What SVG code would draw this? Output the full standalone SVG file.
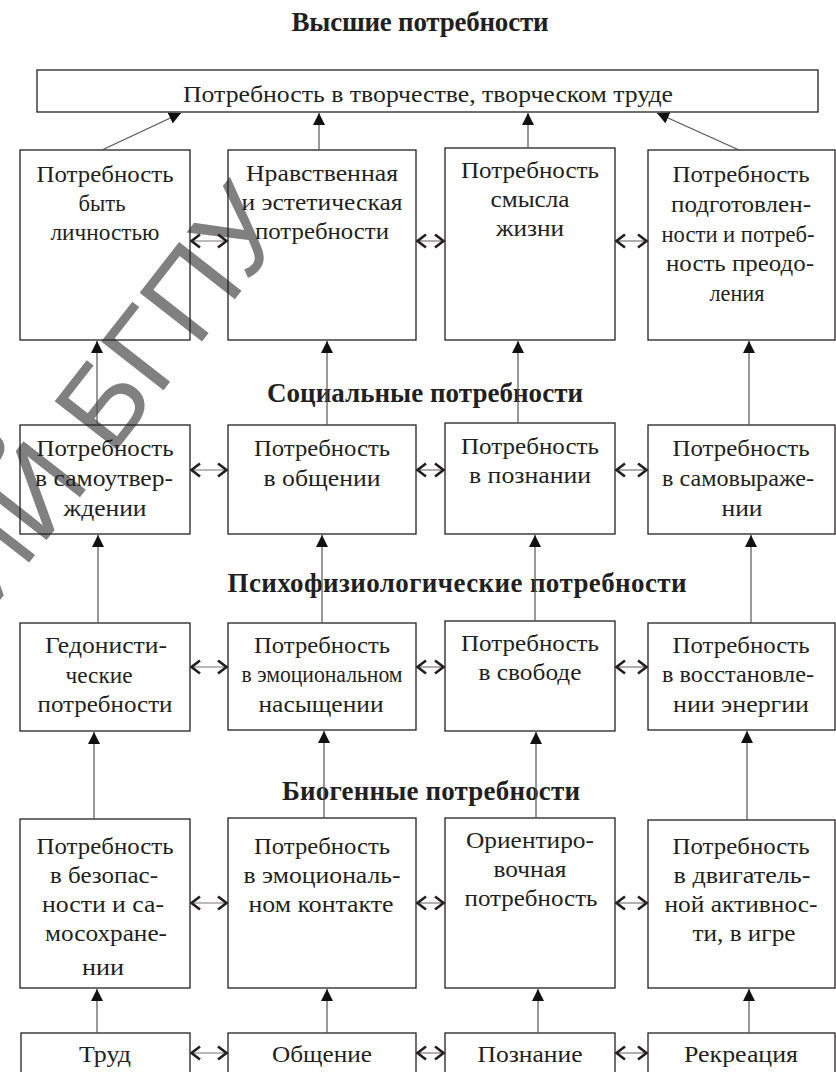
<svg xmlns="http://www.w3.org/2000/svg" width="836" height="1072" viewBox="0 0 836 1072">
<style>
.bg{fill:#ffffff}
.box{fill:none;stroke:#231f20;stroke-width:1.3}
.t{font-family:"Liberation Serif","Times New Roman",serif;font-size:24px;fill:#231f20;text-anchor:middle}
.h{font-family:"Liberation Serif","Times New Roman",serif;font-size:27px;font-weight:bold;fill:#231f20;text-anchor:middle}
.up{stroke:#555555;stroke-width:1.2;fill:none;marker-end:url(#tri)}
.bi{stroke:#777777;stroke-width:1.2;fill:none;marker-start:url(#chev);marker-end:url(#chev)}
.wm{font-family:"Liberation Sans",Arial,sans-serif;font-size:115px;fill:#808080}
</style>
<defs>
<marker id="tri" viewBox="0 0 12 12" refX="12" refY="6" markerWidth="12" markerHeight="12" markerUnits="userSpaceOnUse" orient="auto">
<path d="M0,0 L12,6 L0,12 z" fill="#111111"/>
</marker>
<marker id="chev" viewBox="0 0 12 16" refX="10.5" refY="8" markerWidth="12" markerHeight="16" markerUnits="userSpaceOnUse" orient="auto-start-reverse">
<path d="M1.5,1.5 L10,8 L1.5,14.5" fill="none" stroke="#231f20" stroke-width="2.6"/>
</marker>
</defs>
<rect class="bg" x="0" y="0" width="836" height="1072"/>
<text class="wm" transform="translate(292,226) rotate(-52)" text-anchor="end">РЕПОЗИТОРИЙ БГПУ</text>

<g id="titles">
<text class="h" x="420" y="31" textLength="257" lengthAdjust="spacing">Высшие потребности</text>
<text class="h" x="425" y="402" textLength="316" lengthAdjust="spacing">Социальные потребности</text>
<text class="h" x="457" y="592" textLength="459" lengthAdjust="spacing">Психофизиологические потребности</text>
<text class="h" x="431" y="800" textLength="298" lengthAdjust="spacing">Биогенные потребности</text>
</g>

<g id="n-top">
<rect class="box" x="37" y="70" width="781" height="42"/>
<text class="t" x="428" y="102" textLength="490" lengthAdjust="spacingAndGlyphs">Потребность в творчестве, творческом труде</text>
</g>

<g id="n-r1c1">
<rect class="box" x="20" y="150" width="170" height="190"/>
<text class="t" x="105" y="182" textLength="137" lengthAdjust="spacingAndGlyphs">Потребность</text>
<text class="t" x="102" y="211" textLength="47" lengthAdjust="spacingAndGlyphs">быть</text>
<text class="t" x="105" y="240" textLength="109" lengthAdjust="spacingAndGlyphs">личностью</text>
</g>
<g id="n-r1c2">
<rect class="box" x="228" y="150" width="188" height="190"/>
<text class="t" x="322" y="181" textLength="152" lengthAdjust="spacingAndGlyphs">Нравственная</text>
<text class="t" x="322" y="210" textLength="161" lengthAdjust="spacingAndGlyphs">и эстетическая</text>
<text class="t" x="322" y="239" textLength="134" lengthAdjust="spacingAndGlyphs">потребности</text>
</g>
<g id="n-r1c3">
<rect class="box" x="445" y="148" width="170" height="192"/>
<text class="t" x="530" y="178" textLength="138" lengthAdjust="spacingAndGlyphs">Потребность</text>
<text class="t" x="530" y="207" textLength="79" lengthAdjust="spacingAndGlyphs">смысла</text>
<text class="t" x="530" y="236" textLength="68" lengthAdjust="spacingAndGlyphs">жизни</text>
</g>
<g id="n-r1c4">
<rect class="box" x="648" y="150" width="187" height="190"/>
<text class="t" x="741" y="182" textLength="137" lengthAdjust="spacingAndGlyphs">Потребность</text>
<text class="t" x="741" y="212" textLength="140" lengthAdjust="spacingAndGlyphs">подготовлен-</text>
<text class="t" x="738" y="242" textLength="153" lengthAdjust="spacingAndGlyphs">ности и потреб-</text>
<text class="t" x="740" y="271" textLength="148" lengthAdjust="spacingAndGlyphs">ность преодо-</text>
<text class="t" x="737" y="301" textLength="55" lengthAdjust="spacingAndGlyphs">ления</text>
</g>

<g id="n-r2c1">
<rect class="box" x="20" y="425" width="170" height="109"/>
<text class="t" x="105" y="456" textLength="137" lengthAdjust="spacingAndGlyphs">Потребность</text>
<text class="t" x="104" y="486" textLength="138" lengthAdjust="spacingAndGlyphs">в самоутвер-</text>
<text class="t" x="105" y="516" textLength="83" lengthAdjust="spacingAndGlyphs">ждении</text>
</g>
<g id="n-r2c2">
<rect class="box" x="228" y="425" width="188" height="109"/>
<text class="t" x="322" y="456" textLength="136" lengthAdjust="spacingAndGlyphs">Потребность</text>
<text class="t" x="322" y="486" textLength="117" lengthAdjust="spacingAndGlyphs">в общении</text>
</g>
<g id="n-r2c3">
<rect class="box" x="445" y="423" width="170" height="111"/>
<text class="t" x="530" y="454" textLength="138" lengthAdjust="spacingAndGlyphs">Потребность</text>
<text class="t" x="530" y="483" textLength="122" lengthAdjust="spacingAndGlyphs">в познании</text>
</g>
<g id="n-r2c4">
<rect class="box" x="648" y="425" width="187" height="109"/>
<text class="t" x="741" y="456" textLength="137" lengthAdjust="spacingAndGlyphs">Потребность</text>
<text class="t" x="738" y="486" textLength="152" lengthAdjust="spacingAndGlyphs">в самовыраже-</text>
<text class="t" x="742" y="516" textLength="41" lengthAdjust="spacingAndGlyphs">нии</text>
</g>

<g id="n-r3c1">
<rect class="box" x="20" y="623" width="170" height="108"/>
<text class="t" x="106" y="653" textLength="122" lengthAdjust="spacingAndGlyphs">Гедонисти-</text>
<text class="t" x="99" y="683" textLength="67" lengthAdjust="spacingAndGlyphs">ческие</text>
<text class="t" x="105" y="712" textLength="135" lengthAdjust="spacingAndGlyphs">потребности</text>
</g>
<g id="n-r3c2">
<rect class="box" x="228" y="623" width="188" height="107"/>
<text class="t" x="322" y="653" textLength="136" lengthAdjust="spacingAndGlyphs">Потребность</text>
<text class="t" x="322" y="682" textLength="161" lengthAdjust="spacingAndGlyphs">в эмоциональном</text>
<text class="t" x="321" y="712" textLength="125" lengthAdjust="spacingAndGlyphs">насыщении</text>
</g>
<g id="n-r3c3">
<rect class="box" x="445" y="621" width="170" height="110"/>
<text class="t" x="530" y="651" textLength="138" lengthAdjust="spacingAndGlyphs">Потребность</text>
<text class="t" x="530" y="680" textLength="103" lengthAdjust="spacingAndGlyphs">в свободе</text>
</g>
<g id="n-r3c4">
<rect class="box" x="648" y="623" width="187" height="107"/>
<text class="t" x="741" y="653" textLength="137" lengthAdjust="spacingAndGlyphs">Потребность</text>
<text class="t" x="738" y="682" textLength="152" lengthAdjust="spacingAndGlyphs">в восстановле-</text>
<text class="t" x="741" y="712" textLength="136" lengthAdjust="spacingAndGlyphs">нии энергии</text>
</g>

<g id="n-r4c1">
<rect class="box" x="20" y="819" width="170" height="169"/>
<text class="t" x="105" y="854" textLength="137" lengthAdjust="spacingAndGlyphs">Потребность</text>
<text class="t" x="104" y="883" textLength="108" lengthAdjust="spacingAndGlyphs">в безопас-</text>
<text class="t" x="103" y="912" textLength="122" lengthAdjust="spacingAndGlyphs">ности и са-</text>
<text class="t" x="106" y="941" textLength="122" lengthAdjust="spacingAndGlyphs">мосохране-</text>
<text class="t" x="103" y="975" textLength="42" lengthAdjust="spacingAndGlyphs">нии</text>
</g>
<g id="n-r4c2">
<rect class="box" x="228" y="818" width="188" height="170"/>
<text class="t" x="322" y="854" textLength="136" lengthAdjust="spacingAndGlyphs">Потребность</text>
<text class="t" x="322" y="883" textLength="157" lengthAdjust="spacingAndGlyphs">в эмоциональ-</text>
<text class="t" x="321" y="912" textLength="145" lengthAdjust="spacingAndGlyphs">ном контакте</text>
</g>
<g id="n-r4c3">
<rect class="box" x="445" y="818" width="170" height="170"/>
<text class="t" x="530" y="848" textLength="128" lengthAdjust="spacingAndGlyphs">Ориентиро-</text>
<text class="t" x="530" y="877" textLength="73" lengthAdjust="spacingAndGlyphs">вочная</text>
<text class="t" x="531" y="906" textLength="133" lengthAdjust="spacingAndGlyphs">потребность</text>
</g>
<g id="n-r4c4">
<rect class="box" x="648" y="820" width="187" height="168"/>
<text class="t" x="741" y="854" textLength="137" lengthAdjust="spacingAndGlyphs">Потребность</text>
<text class="t" x="742" y="883" textLength="137" lengthAdjust="spacingAndGlyphs">в двигатель-</text>
<text class="t" x="741" y="912" textLength="153" lengthAdjust="spacingAndGlyphs">ной активнос-</text>
<text class="t" x="744" y="941" textLength="103" lengthAdjust="spacingAndGlyphs">ти, в игре</text>
</g>

<g id="n-r5c1">
<rect class="box" x="21" y="1033" width="169" height="60"/>
<text class="t" x="105" y="1062" textLength="52" lengthAdjust="spacingAndGlyphs">Труд</text>
</g>
<g id="n-r5c2">
<rect class="box" x="228" y="1033" width="188" height="60"/>
<text class="t" x="322" y="1062" textLength="100" lengthAdjust="spacingAndGlyphs">Общение</text>
</g>
<g id="n-r5c3">
<rect class="box" x="445" y="1033" width="170" height="60"/>
<text class="t" x="530" y="1062" textLength="105" lengthAdjust="spacingAndGlyphs">Познание</text>
</g>
<g id="n-r5c4">
<rect class="box" x="648" y="1033" width="187" height="60"/>
<text class="t" x="741" y="1062" textLength="114" lengthAdjust="spacingAndGlyphs">Рекреация</text>
</g>

<g id="connectors">
<line class="up" x1="102" y1="150" x2="181" y2="113"/>
<line class="up" x1="319" y1="150" x2="319" y2="113"/>
<line class="up" x1="528" y1="148" x2="528" y2="113"/>
<line class="up" x1="739" y1="150" x2="657" y2="113"/>

<line class="up" x1="97" y1="425" x2="97" y2="341"/>
<line class="up" x1="327" y1="425" x2="327" y2="341"/>
<line class="up" x1="518" y1="423" x2="518" y2="341"/>
<line class="up" x1="749" y1="425" x2="749" y2="341"/>

<line class="up" x1="98" y1="623" x2="98" y2="535"/>
<line class="up" x1="322" y1="623" x2="322" y2="535"/>
<line class="up" x1="535" y1="621" x2="535" y2="535"/>
<line class="up" x1="751" y1="623" x2="751" y2="535"/>

<line class="up" x1="94" y1="819" x2="94" y2="732"/>
<line class="up" x1="324" y1="818" x2="324" y2="731"/>
<line class="up" x1="536" y1="818" x2="536" y2="732"/>
<line class="up" x1="747" y1="820" x2="747" y2="731"/>

<line class="up" x1="97" y1="1033" x2="97" y2="989"/>
<line class="up" x1="327" y1="1033" x2="327" y2="989"/>
<line class="up" x1="538" y1="1033" x2="538" y2="989"/>
<line class="up" x1="749" y1="1033" x2="749" y2="989"/>

<line class="bi" x1="191" y1="241" x2="227" y2="241"/>
<line class="bi" x1="417" y1="241" x2="444" y2="241"/>
<line class="bi" x1="616" y1="241" x2="647" y2="241"/>

<line class="bi" x1="191" y1="470" x2="227" y2="470"/>
<line class="bi" x1="417" y1="470" x2="444" y2="470"/>
<line class="bi" x1="616" y1="470" x2="647" y2="470"/>

<line class="bi" x1="191" y1="667" x2="227" y2="667"/>
<line class="bi" x1="417" y1="667" x2="444" y2="667"/>
<line class="bi" x1="616" y1="667" x2="647" y2="667"/>

<line class="bi" x1="191" y1="903" x2="227" y2="903"/>
<line class="bi" x1="417" y1="903" x2="444" y2="903"/>
<line class="bi" x1="616" y1="903" x2="647" y2="903"/>

<line class="bi" x1="191" y1="1053" x2="227" y2="1053"/>
<line class="bi" x1="417" y1="1053" x2="444" y2="1053"/>
<line class="bi" x1="616" y1="1053" x2="647" y2="1053"/>
</g>
</svg>
